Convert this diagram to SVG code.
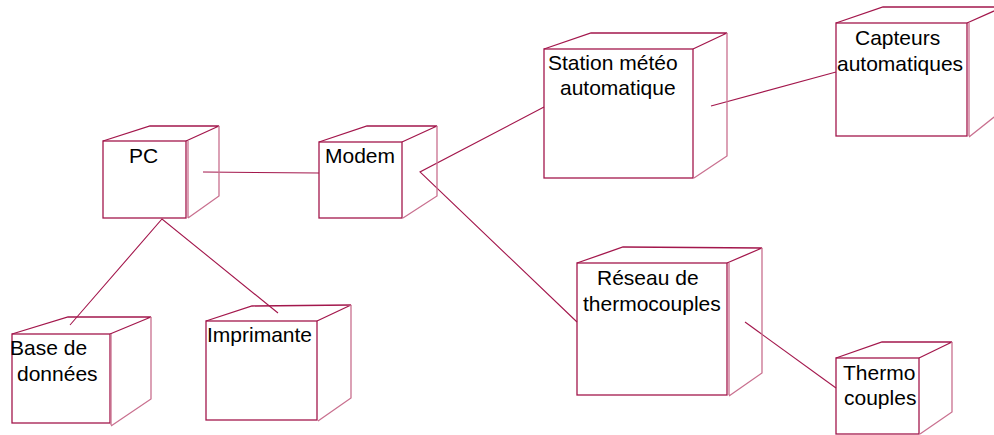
<svg xmlns="http://www.w3.org/2000/svg" width="994" height="435" viewBox="0 0 994 435">
<style>
.f{fill:none;stroke:#a3174c;stroke-width:1.3}
.s{fill:none;stroke:#c9708f;stroke-width:1.3}
.c{fill:none;stroke:#a3174c;stroke-width:1.1}
text{font-family:"Liberation Sans",Arial,sans-serif;font-size:21px;fill:#000}
</style>
<rect width="994" height="435" fill="#fff"/>
<g id="connectors">
<line class="c" x1="203" y1="172" x2="319" y2="173"/>
<polyline class="c" points="70,325 162,219 278,313"/>
<polyline class="c" points="544,107 420,172 577,322"/>
<line class="c" x1="711" y1="106" x2="836" y2="72"/>
<line class="c" x1="745" y1="322" x2="836" y2="388"/>
</g>
<g id="pc">
<rect class="f" x="103" y="141" width="83" height="77"/>
<path class="f" d="M103,141 L150,126 L219,126 L186,141"/>
<path class="s" d="M219,126 L219,196 L188,218 M188,141 L188,218"/>
<text x="129" y="163">PC</text>
</g>
<g id="modem">
<rect class="f" x="319" y="142" width="83" height="76"/>
<path class="f" d="M319,142 L367,126 L437,126 L402,142"/>
<path class="s" d="M437,126 L437,196 L403,218"/>
<text x="325" y="163">Modem</text>
</g>
<g id="station">
<rect class="f" x="544" y="49" width="149" height="129"/>
<path class="f" d="M544,49 L591,33 L727,33 L693,49"/>
<path class="s" d="M727,33 L727,156 L694,178"/>
<text x="548" y="70">Station météo</text>
<text x="560" y="95">automatique</text>
</g>
<g id="capteurs">
<rect class="f" x="836" y="23" width="131" height="113"/>
<path class="f" d="M836,23 L883,7 L1003,7 L967,23"/>
<path class="s" d="M1003,7 L1003,110 L969,137 M969,23 L969,136"/>
<text x="855" y="45">Capteurs</text>
<text x="837" y="71">automatiques</text>
</g>
<g id="base">
<rect class="f" x="12" y="334" width="98" height="89"/>
<path class="f" d="M12,334 L68,317 L151,317 L110,334"/>
<path class="s" d="M151,317 L151,399 L111,426 M111,334 L111,425"/>
<text x="10" y="355">Base de</text>
<text x="17" y="381">données</text>
</g>
<g id="imprimante">
<rect class="f" x="206" y="321" width="111" height="99"/>
<path class="f" d="M206,321 L252,306 L351,305 L317,321"/>
<path class="s" d="M351,305 L351,398 L318,421"/>
<text x="207" y="342">Imprimante</text>
</g>
<g id="reseau">
<rect class="f" x="577" y="263" width="150" height="132"/>
<path class="f" d="M577,263 L623,247 L762,248 L727,263"/>
<path class="s" d="M762,248 L762,373 L729,396 M729,263 L729,395"/>
<text x="597" y="285">Réseau de</text>
<text x="583" y="311">thermocouples</text>
</g>
<g id="thermo">
<rect class="f" x="836" y="358" width="83" height="76"/>
<path class="f" d="M836,358 L882,342 L952,342 L919,358"/>
<path class="s" d="M952,342 L952,412 L920,434"/>
<text x="843" y="380">Thermo</text>
<text x="844" y="405">couples</text>
</g>
</svg>
